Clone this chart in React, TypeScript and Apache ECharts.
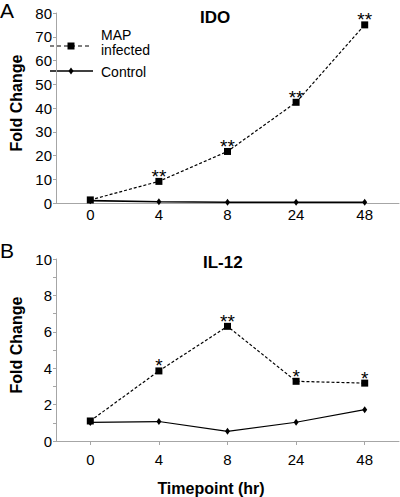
import React, { useEffect, useRef } from "react";
import * as echarts from "echarts";

const timepoints = ["0", "4", "8", "24", "48"];
const idoMap = [1.3, 9.1, 21.7, 42.4, 75];
const idoControl = [1.0, 0.5, 0.3, 0.3, 0.3];
const idoSig = ["", "**", "**", "**", "**"];
const il12Map = [1.1, 3.85, 6.3, 3.28, 3.18];
const il12Control = [1.02, 1.07, 0.53, 1.03, 1.72];
const il12Sig = ["", "*", "**", "*", "*"];
const idoTicks = { min: 0, max: 80, interval: 10 };
const il12Ticks = { min: 0, max: 10, interval: 2 };

const FONT = "Liberation Sans, Arial, sans-serif";
const AXIS_GRAY = "#a6a6a6";

export default function App() {
  const ref = useRef<HTMLDivElement>(null);
  useEffect(() => {
    if (!ref.current) return;
    const chart = echarts.init(ref.current, undefined, { renderer: "svg" });
    const yAxisBase = (t: any, minor: boolean) => ({
      type: "value",
      min: t.min,
      max: t.max,
      interval: t.interval,
      name: "Fold Change",
      nameLocation: "middle",
      nameGap: 32,
      nameTextStyle: { fontFamily: FONT, fontSize: 16, fontWeight: "bold", color: "#000", padding: [0, 0, 0, 10] },
      axisLine: { show: true, lineStyle: { color: AXIS_GRAY, width: 1 } },
      axisTick: { show: true, inside: false, length: 3, lineStyle: { color: AXIS_GRAY } },
      minorTick: { show: minor, splitNumber: 2, length: 3, lineStyle: { color: AXIS_GRAY } },
      splitLine: { show: false },
      axisLabel: { fontFamily: FONT, fontSize: 15, color: "#000", margin: 4 },
    });
    const xAxisBase = (gridIndex: number, margin: number, withName: boolean, ticks: boolean) => ({
      type: "category",
      gridIndex,
      data: timepoints,
      boundaryGap: true,
      name: withName ? "Timepoint (hr)" : "",
      nameLocation: "middle",
      nameGap: 39,
      nameTextStyle: { fontFamily: FONT, fontSize: 16, fontWeight: "bold", color: "#000", padding: [0, 33, 0, 0] },
      axisLine: { show: true, lineStyle: { color: AXIS_GRAY, width: 1 } },
      axisTick: { show: ticks, alignWithLabel: true, length: 4, lineStyle: { color: AXIS_GRAY } },
      axisLabel: { fontFamily: FONT, fontSize: 15, color: "#000", margin },
    });
    const mapSeries = (idx: number, data: number[], sig: string[]) => ({
      type: "line",
      name: "MAP infected",
      xAxisIndex: idx,
      yAxisIndex: idx,
      data,
      symbol: "rect",
      symbolSize: 7,
      itemStyle: { color: "#000" },
      lineStyle: { color: "#000", width: 1.2, type: [3, 2] },
      label: {
        show: true,
        position: "top",
        distance: 1,
        offset: [0, 9],
        fontFamily: FONT,
        fontSize: 19,
        color: "#000",
        formatter: (p: any) => sig[p.dataIndex],
      },
      z: 3,
    });
    const ctrlSeries = (idx: number, data: number[], w: number) => ({
      type: "line",
      name: "Control",
      xAxisIndex: idx,
      yAxisIndex: idx,
      data,
      symbol: "diamond",
      symbolSize: [5, 7],
      itemStyle: { color: "#000" },
      lineStyle: { color: "#000", width: w, type: "solid" },
      z: 2,
    });
    const legendText = (text: string, y: number) => ({
      type: "text",
      x: 101,
      y,
      style: { text, fontFamily: FONT, fontSize: 14, fill: "#000", textVerticalAlign: "middle", verticalAlign: "middle" },
    });
    chart.setOption({
      animation: false,
      backgroundColor: "#fff",
      textStyle: { fontFamily: FONT },
      title: [
        { text: "A", left: 0, top: 0, textStyle: { fontFamily: FONT, fontSize: 21, fontWeight: "normal", color: "#000" }, padding: 0 },
        { text: "B", left: 0, top: 240, textStyle: { fontFamily: FONT, fontSize: 21, fontWeight: "normal", color: "#000" }, padding: 0 },
        { text: "IDO", left: 200, top: 9, textStyle: { fontFamily: FONT, fontSize: 17, fontWeight: "bold", color: "#000" }, padding: 0 },
        { text: "IL-12", left: 203, top: 254, textStyle: { fontFamily: FONT, fontSize: 17, fontWeight: "bold", color: "#000" }, padding: 0 },
      ],
      graphic: [
        {
          type: "line",
          shape: { x1: 50, y1: 46, x2: 92, y2: 46 },
          style: { stroke: "#000", lineWidth: 1.2, lineDash: [4, 3] },
        },
        { type: "rect", shape: { x: 67.5, y: 42.5, width: 7, height: 7 }, style: { fill: "#000" } },
        legendText("MAP", 35),
        legendText("infected", 50),
        {
          type: "line",
          shape: { x1: 50, y1: 71, x2: 93, y2: 71 },
          style: { stroke: "#000", lineWidth: 1.6 },
        },
        {
          type: "polygon",
          shape: { points: [[71, 67.5], [73.5, 71], [71, 74.5], [68.5, 71]] },
          style: { fill: "#000" },
        },
        legendText("Control", 71.5),
      ],
      grid: [
        { left: 44, right: 1, top: 13, height: 190 },
        { left: 44, right: 1, top: 259, height: 190 },
      ],
      xAxis: [xAxisBase(0, 4, false, false), xAxisBase(1, 11, true, true)],
      yAxis: [
        { ...yAxisBase(idoTicks, false), gridIndex: 0 },
        { ...yAxisBase(il12Ticks, true), gridIndex: 1 },
      ],
      series: [
        mapSeries(0, idoMap, idoSig),
        ctrlSeries(0, idoControl, 1.6),
        mapSeries(1, il12Map, il12Sig),
        ctrlSeries(1, il12Control, 1.2),
      ],
    });
    return () => chart.dispose();
  }, []);
  return (
    <div
      ref={ref}
      style={{ position: "fixed", left: 0, top: 0, width: 400, height: 497, background: "#fff" }}
    />
  );
}
